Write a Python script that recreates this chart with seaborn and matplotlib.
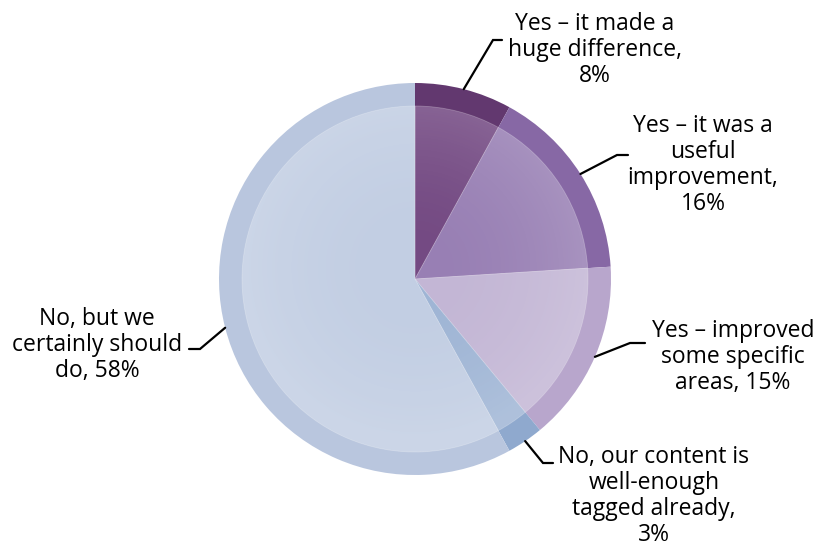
import numpy as np
import matplotlib
matplotlib.use("Agg")
import matplotlib.pyplot as plt
import seaborn as sns
from matplotlib.patches import Circle

sns.set_theme(style="white")
plt.rcParams["font.family"] = ["Open Sans", "DejaVu Sans"]

# Survey answers, clockwise from 12 o'clock
labels = [
    "Yes – it made a\nhuge difference,",
    "Yes – it was a\nuseful\nimprovement,",
    "Yes – improved\nsome specific\nareas,",
    "No, our content is\nwell-enough\ntagged already,",
    "No, but we\ncertainly should\ndo,",
]
values = [8, 16, 15, 3, 58]
# what joins the answer text to its percentage
joiners = ["\n", "\n", " ", "\n", " "]
rim_colors = ["#62386f", "#8768a5", "#b8a6cc", "#8fa9ce", "#b9c6de"]
face_colors = ["#744a83", "#987fb4", "#c3b6d5", "#9fb5d5", "#c2cee3"]

# Label layout (pixel space, origin top-left): text centre, elbow, tail end
text_pos = [(595, 50), (703, 165), (733, 357), (654, 496), (97, 345)]
elbows = [(493, 40), (617, 155), (630, 343), (543, 463), (200, 349)]
tails = [(502, 40), (628, 155), (645, 343), (553, 463), (189, 349)]

W, H = 818, 547
cx, cy, R = 415, 279, 196
r_in = 173

fig = plt.figure(figsize=(W / 100, H / 100), dpi=100)
ax = fig.add_axes([0, 0, 1, 1])
ax.set_xlim(0, W)
ax.set_ylim(0, H)
ax.set_aspect("equal")
ax.axis("off")

centre = (cx, H - cy)
wedges, _ = ax.pie(values, colors=rim_colors, startangle=90, counterclock=False,
                   radius=R, center=centre, frame=True,
                   wedgeprops=dict(linewidth=0))
ax.pie(values, colors=face_colors, startangle=90, counterclock=False,
       radius=r_in, center=centre, frame=True,
       wedgeprops=dict(linewidth=0.6, edgecolor=(1, 1, 1, 0.25)))

# soft radial sheen on the inner face
yy, xx = np.mgrid[0:H, 0:W]
dist = np.hypot(xx - cx, (H - yy) - (H - cy)) / r_in
sheen = np.zeros((H, W, 4))
sheen[..., :3] = 1.0
sheen[..., 3] = np.clip(dist, 0, 1) ** 2 * 0.16
img = ax.imshow(sheen, extent=(0, W, H, 0), origin="upper", zorder=3,
                interpolation="bilinear")
img.set_clip_path(Circle(centre, r_in, transform=ax.transData))
ax.set_xlim(0, W)
ax.set_ylim(0, H)

# leader lines from each wedge's mid-angle and labels
for w, lab, v, j, tp, el, tl in zip(wedges, labels, values, joiners,
                                     text_pos, elbows, tails):
    ang = np.deg2rad((w.theta1 + w.theta2) / 2)
    ax0 = cx + R * np.cos(ang)
    ay0 = (H - cy) + R * np.sin(ang)
    ax.plot([ax0, el[0], tl[0]], [ay0, H - el[1], H - tl[1]],
            color="black", lw=1.6, zorder=4, solid_joinstyle="miter")
    ax.text(tp[0], H - tp[1], f"{lab}{j}{v}%", ha="center", va="center",
            fontsize=16.5, linespacing=1.1, color="black", zorder=5)

fig.savefig("out.png", dpi=100)
